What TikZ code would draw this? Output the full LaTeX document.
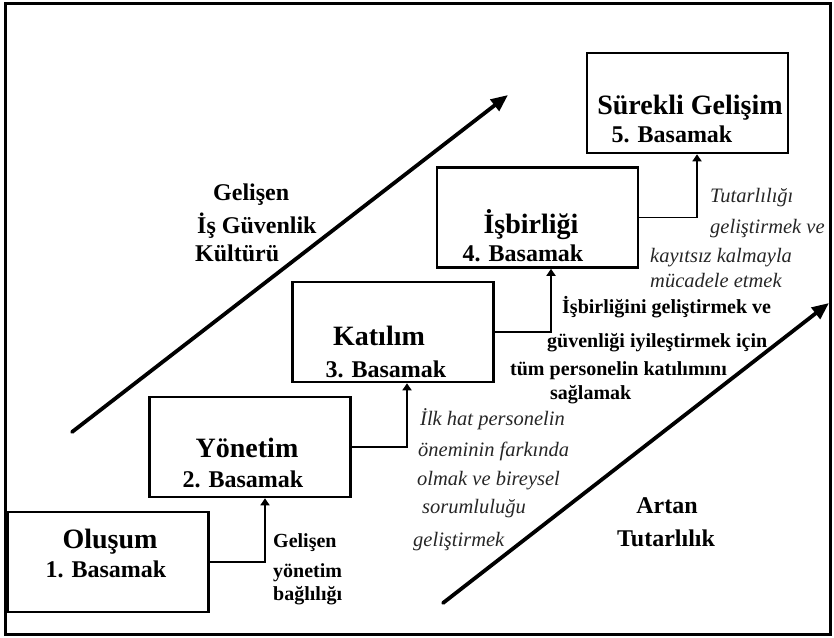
\documentclass[tikz,border=0pt]{standalone}
\usepackage{fontspec}
\setmainfont{Liberation Serif}
\usetikzlibrary{arrows.meta}
\begin{document}
\begin{tikzpicture}[x=1pt,y=-1pt,
  stagebox/.style={draw, line width=2.6pt, minimum width=201pt, minimum height=100pt, inner sep=0pt},
  stagetitle/.style={anchor=base, font=\bfseries\fontsize{28}{30}\selectfont, inner sep=0pt},
  stagenum/.style={anchor=base, font=\bfseries\fontsize{24}{26}\selectfont, inner sep=0pt},
  conn/.style={line width=1.7pt, -{Triangle[length=7pt,width=9pt]}},
  trend/.style={line width=3.8pt, line cap=round, -{Triangle[length=17pt,width=14pt]}},
  boldnote/.style={anchor=base west, font=\bfseries\fontsize{20}{22}\selectfont, inner sep=0pt},
  itnote/.style={anchor=base west, font=\itshape\fontsize{20.5}{23}\selectfont, text=black!85, inner sep=0pt},
  trendlabel/.style={anchor=base west, font=\bfseries\fontsize{24}{26}\selectfont, inner sep=0pt},
]
\useasboundingbox (0,0) rectangle (834,637);

% outer frame
\draw[line width=3pt] (5,3) rectangle (830.5,634);

% the five stages
\node[stagebox] (b1) at (108,562) {};
\node[stagebox] (b2) at (250,447) {};
\node[stagebox] (b3) at (393,332) {};
\node[stagebox] (b4) at (537.5,217.5) {};
\node[stagebox] (b5) at (687.5,103) {};

\node[stagetitle] (t1) at (110,548) {Oluşum};
\node[stagenum]   (n1) at (106,577) {1. Basamak};
\node[stagetitle] (t2) at (247,457) {Yönetim};
\node[stagenum]   (n2) at (243,487) {2. Basamak};
\node[stagetitle] (t3) at (379,345) {Katılım};
\node[stagenum]   (n3) at (386,377) {3. Basamak};
\node[stagetitle] (t4) at (531,233) {İşbirliği};
\node[stagenum]   (n4) at (523,261) {4. Basamak};
\node[stagetitle] (t5) at (690,114) {Sürekli Gelişim};
\node[stagenum]   (n5) at (672,142) {5. Basamak};

% step connectors
\draw[conn] (b1.east) -| ([xshift=15pt]b2.south);
\draw[conn] (b2.east) -| ([xshift=14pt]b3.south);
\draw[conn] (b3.east) -| ([xshift=13.5pt]b4.south);
\draw[conn] (b4.east) -| ([xshift=9.5pt]b5.south);

% connector notes
\node[boldnote] (m1) at (273,547) {Gelişen};
\node[boldnote] (m2) at (273,577) {yönetim};
\node[boldnote] (m3) at (273,600) {bağlılığı};

\node[itnote] (p1) at (420,425) {İlk hat personelin};
\node[itnote] (p2) at (418,456) {öneminin farkında};
\node[itnote] (p3) at (417,485) {olmak ve bireysel};
\node[itnote] (p4) at (422,513) {sorumluluğu};
\node[itnote] (p5) at (413,546) {geliştirmek};

\node[boldnote] (q1) at (562,313) {İşbirliğini geliştirmek ve};
\node[boldnote] (q2) at (547,347) {güvenliği iyileştirmek için};
\node[boldnote] (q3) at (510,375) {tüm personelin katılımını};
\node[boldnote] (q4) at (550,399) {sağlamak};

\node[itnote] (r1) at (710,202) {Tutarlılığı};
\node[itnote] (r2) at (710,233) {geliştirmek ve};
\node[itnote] (r3) at (650,262) {kayıtsız kalmayla};
\node[itnote] (r4) at (650,287) {mücadele etmek};

% trend arrows
\coordinate (g0) at (72,432);
\coordinate (g1) at (508,95);
\draw[trend] (g0) -- (g1);
\node[trendlabel] (k1) at (213,200) {Gelişen};
\node[trendlabel] (k2) at (197,233) {İş Güvenlik};
\node[trendlabel] (k3) at (195,261) {Kültürü};

\coordinate (h0) at (443,603);
\coordinate (h1) at (829,303);
\draw[trend] (h0) -- (h1);
\node[trendlabel, anchor=base] (a1) at (667,513) {Artan};
\node[trendlabel, anchor=base] (a2) at (666,546) {Tutarlılık};
\end{tikzpicture}
\end{document}
